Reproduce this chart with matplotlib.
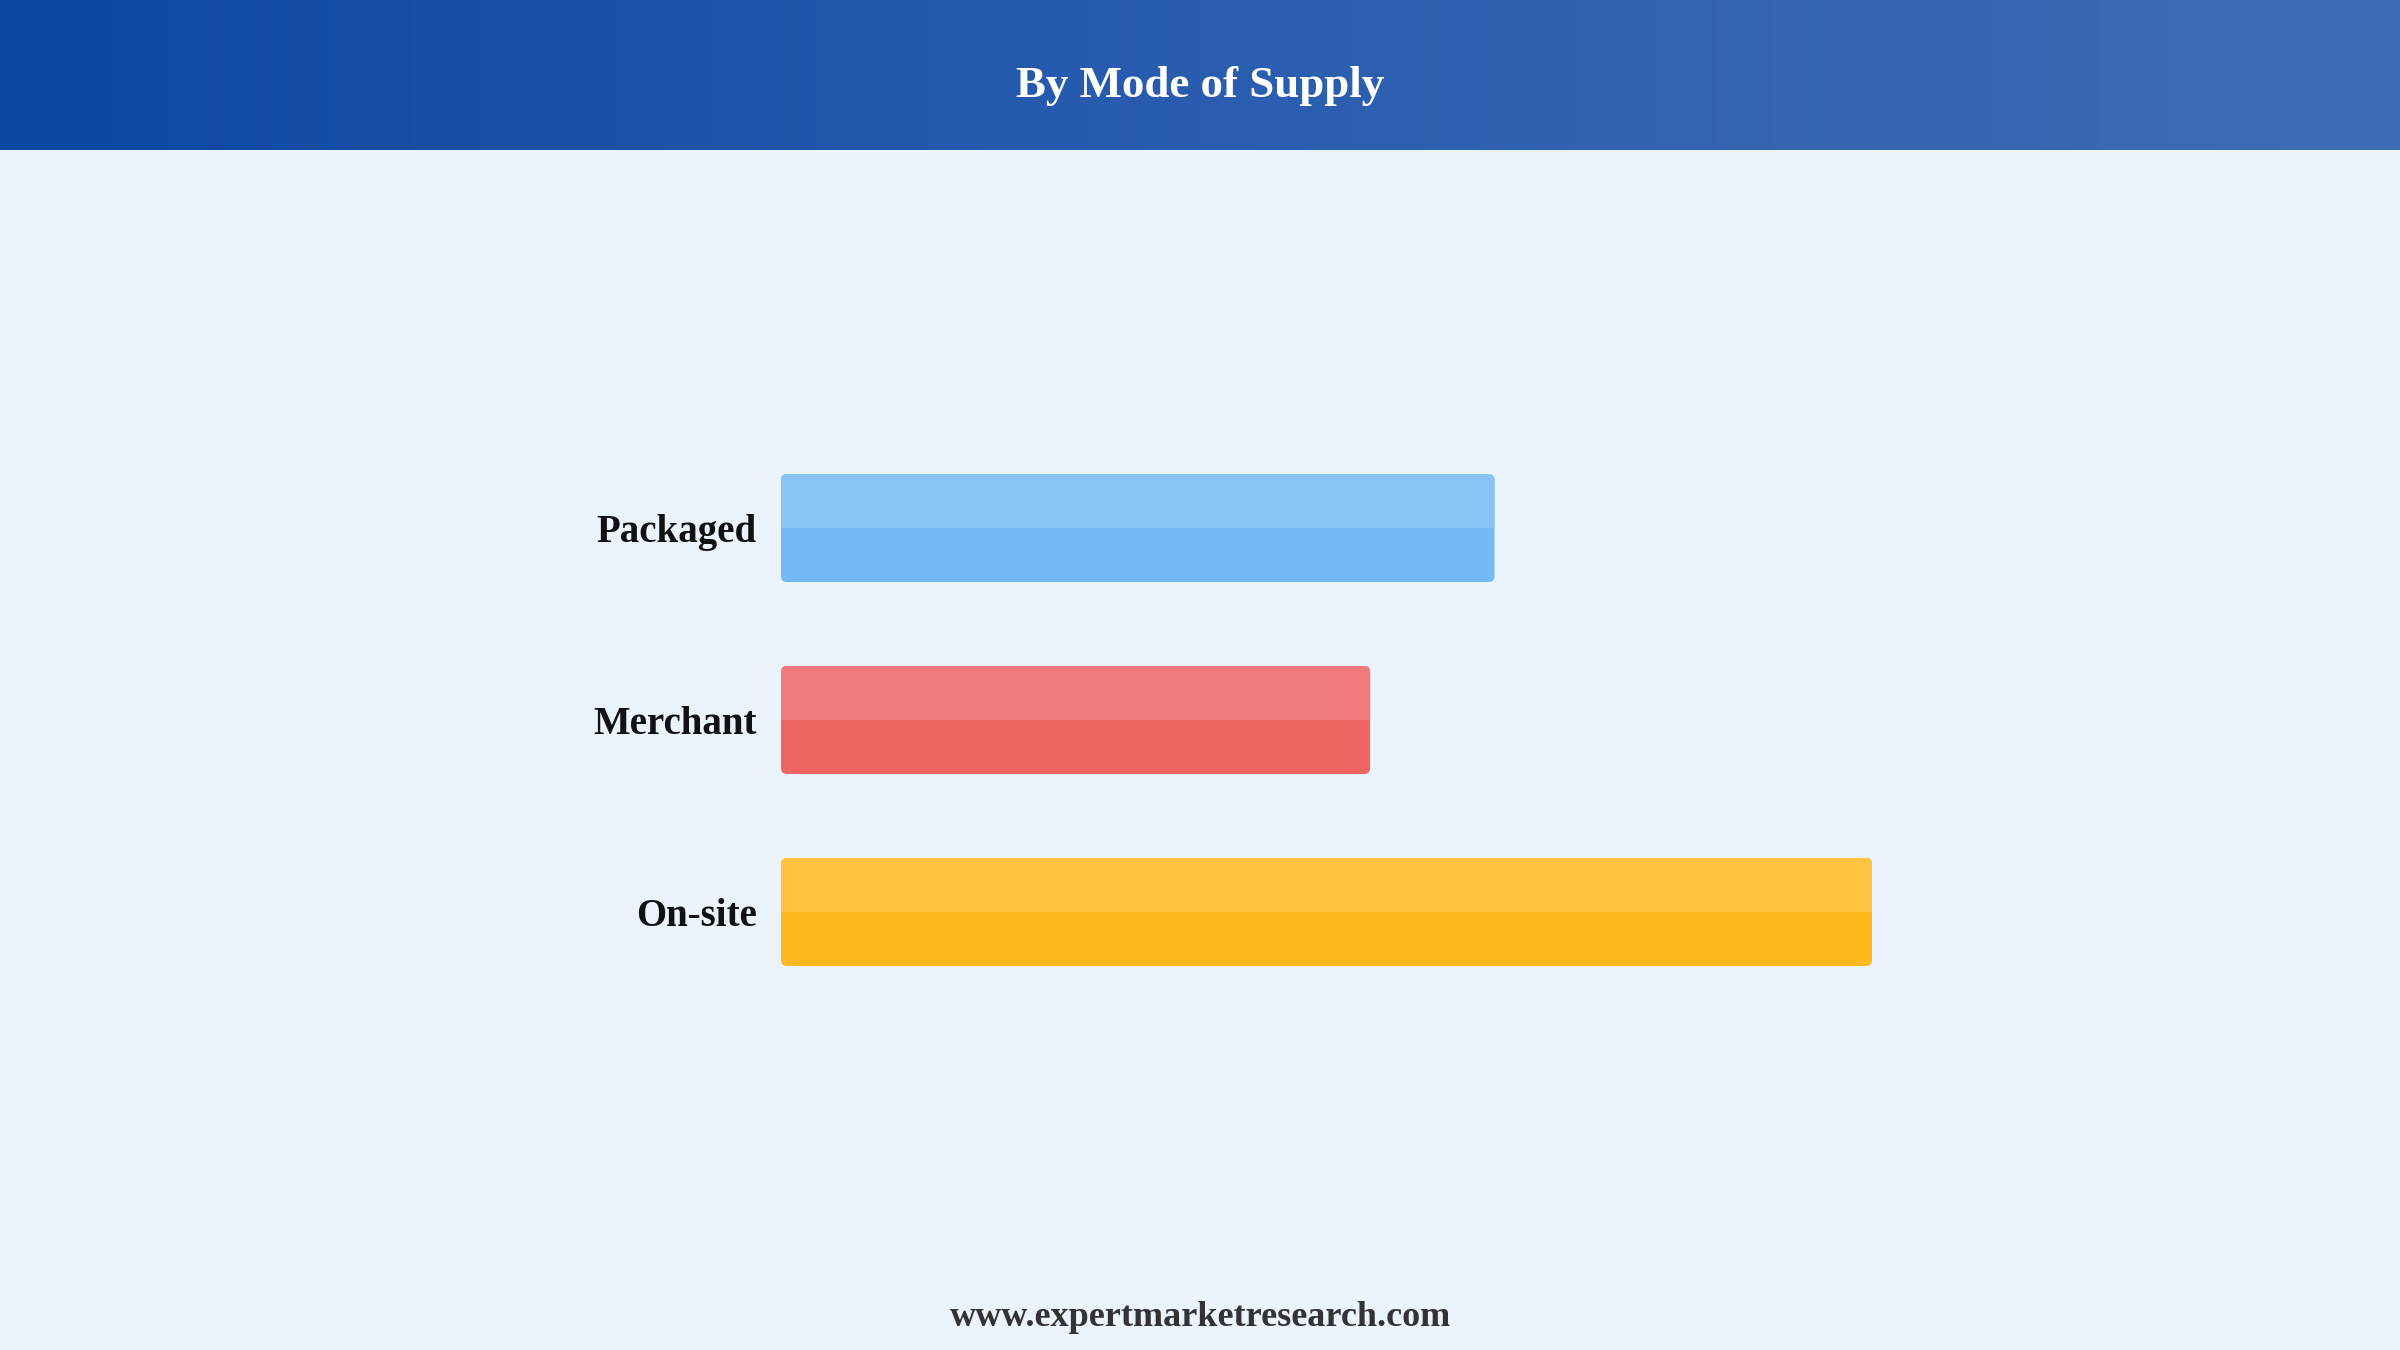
import numpy as np
import matplotlib.pyplot as plt
from matplotlib.patches import FancyBboxPatch, Rectangle
from matplotlib.colors import LinearSegmentedColormap

# donnees
categories = ["Packaged", "Merchant", "On-site"]
values = [65.4, 54.0, 100.0]
bottom_colors = ["#72BAF5", "#EF6562", "#FDB91B"]
top_colors = ["#8AC4F6", "#F07B7A", "#FFC33F"]

W, H = 2400, 1350
bg = "#EBF3FC"

fig = plt.figure(figsize=(24, 13.5), dpi=100, facecolor=bg)

# bandeau du titre avec degrade
head = fig.add_axes([0, 1 - 150 / H, 1, 150 / H])
cmap = LinearSegmentedColormap.from_list("hd", ["#0D47A1", "#2A5DB0", "#3F6DB5"])
head.imshow(np.linspace(0, 1, 256).reshape(1, -1), aspect="auto", cmap=cmap,
            extent=[0, 1, 0, 1])
head.axis("off")
fig.text(0.5, 1 - 97 / H, "By Mode of Supply", ha="center", va="baseline",
         color="white", fontsize=32.3, fontweight="bold", family="Liberation Serif")

# axe des barres
x0, x1 = 781, 1872
y0, y1 = 432, 1008
ax = fig.add_axes([x0 / W, 1 - y1 / H, (x1 - x0) / W, (y1 - y0) / H])
ax.set_facecolor("none")
ax.set_xlim(0, 100)
ax.set_ylim(len(categories) - 0.5, -0.5)

bh = 108 / 192
px_x = (x1 - x0) / 100
px_y = (y1 - y0) / len(categories)
asp = px_x / px_y
rad = 6 / px_x

for i, v in enumerate(values):
    yb = i - bh / 2
    p = FancyBboxPatch((0, yb), v, bh, boxstyle=f"round,pad=0,rounding_size={rad}",
                       mutation_aspect=asp, fc=bottom_colors[i], ec="none")
    ax.add_patch(p)
    # moitie haute plus claire
    q = FancyBboxPatch((0, yb), v, bh, boxstyle=f"round,pad=0,rounding_size={rad}",
                       mutation_aspect=asp, fc=top_colors[i], ec="none")
    ax.add_patch(q)
    clip = Rectangle((-1, yb - 0.01), v + 2, bh / 2 + 0.01, transform=ax.transData)
    q.set_clip_path(clip)

ax.set_yticks(range(len(categories)))
ax.set_yticklabels(categories, fontsize=28, fontweight="bold",
                   family="Liberation Serif", color="#111111")
for t in ax.get_yticklabels():
    t.set_y(t.get_position()[1])
ax.tick_params(axis="y", length=0, pad=17.5)
ax.set_xticks([])
for s in ax.spines.values():
    s.set_visible(False)

fig.text(0.5, 1 - 1326 / H, "www.expertmarketresearch.com", ha="center", va="baseline",
         color="#333333", fontsize=26, fontweight="bold", family="Liberation Serif")

fig.savefig("out.png", dpi=100, facecolor=bg)
